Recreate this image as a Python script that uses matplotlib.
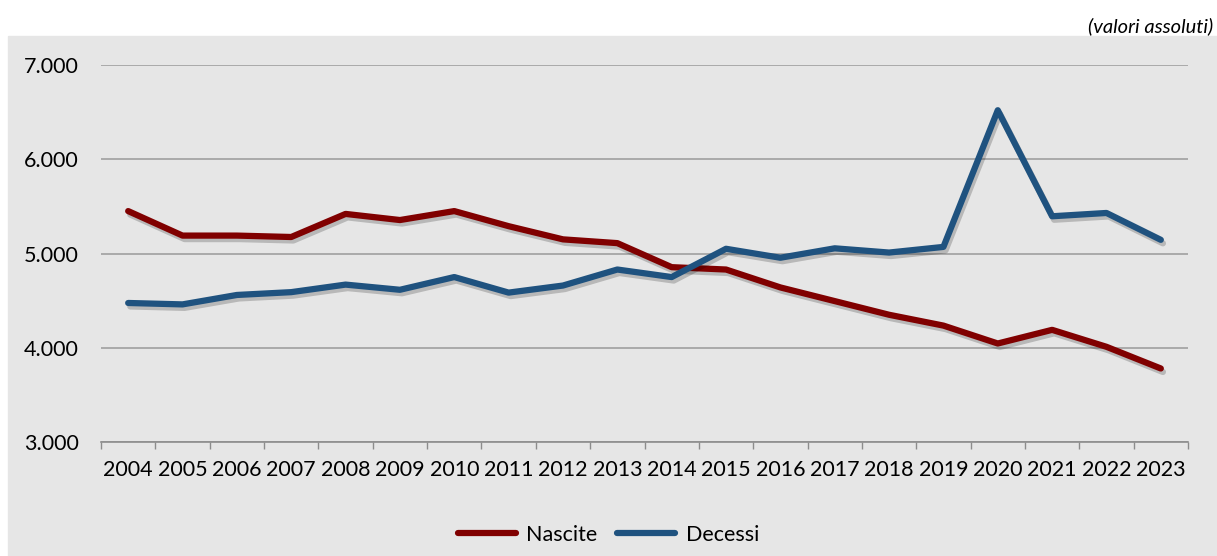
import numpy as np
import matplotlib
matplotlib.use("Agg")
from matplotlib import pyplot as plt
import matplotlib.patheffects as pe

years = [str(y) for y in range(2004, 2024)]
nascite = [5450, 5190, 5190, 5175, 5420, 5355, 5450, 5290, 5150, 5110,
           4855, 4830, 4640, 4495, 4350, 4235, 4045, 4190, 4010, 3780]
decessi = [4475, 4460, 4560, 4590, 4670, 4615, 4750, 4585, 4660, 4830,
           4750, 5050, 4955, 5055, 5010, 5070, 6520, 5395, 5430, 5145]
yticks = [3000, 4000, 5000, 6000, 7000]
ytick_labels = ["3.000", "4.000", "5.000", "6.000", "7.000"]

plt.rcParams["font.family"] = ["Lato", "DejaVu Sans"]

fig = plt.figure(figsize=(12.17, 5.56), dpi=100)
# grey panel behind the chart
bg = plt.Rectangle((8 / 1217, 0), 1 - 8 / 1217, 1 - 36 / 556,
                   transform=fig.transFigure, color="#e6e6e6", zorder=-10)
fig.patches.append(bg)
ax = fig.add_axes([101 / 1217, 1 - 442 / 556, (1188 - 101) / 1217, (442 - 65) / 556])
ax.set_facecolor("none")

x = np.arange(len(years))
shadow = [pe.SimpleLineShadow(offset=(1.5, -2.5), alpha=0.2, shadow_color="black"), pe.Normal()]
ax.plot(x, nascite, color="#800000", lw=4.5, solid_capstyle="round",
        solid_joinstyle="round", label="Nascite", path_effects=shadow, zorder=3)
ax.plot(x, decessi, color="#1f527f", lw=4.5, solid_capstyle="round",
        solid_joinstyle="round", label="Decessi", path_effects=shadow, zorder=3)

ax.set_xlim(-0.5, len(years) - 0.5)
ax.set_ylim(3000, 7000)
ax.set_yticks(yticks)
ax.set_yticklabels(ytick_labels, fontsize=15.5)
ax.set_xticks(x)
ax.set_xticklabels(years, fontsize=15.5)
ax.tick_params(axis="x", which="major", length=0, pad=13)
ax.set_xticks(np.arange(-0.5, len(years)), minor=True)
ax.tick_params(axis="x", which="minor", length=5, color="#8c8c8c", width=1)
ax.tick_params(axis="y", length=0, pad=16)
ax.grid(axis="y", color="#a0a0a0", lw=1.2)
for s in ["top", "right", "left"]:
    ax.spines[s].set_visible(False)
ax.spines["bottom"].set_color("#8c8c8c")
ax.spines["bottom"].set_linewidth(1.2)

leg = fig.legend(loc="center", bbox_to_anchor=(0.5, 1 - 535 / 556), ncol=2,
                 frameon=False, fontsize=15.5, handlelength=2.7, columnspacing=0.9,
                 handletextpad=0.5)
for line in leg.get_lines():
    line.set_linewidth(4.5)
    line.set_solid_capstyle("round")
    line.set_path_effects([])

fig.text(1213 / 1217, 1 - 26 / 556, "(valori assoluti)", ha="right", va="center",
         fontsize=14.5, style="italic")

fig.savefig("out.png", dpi=100)
